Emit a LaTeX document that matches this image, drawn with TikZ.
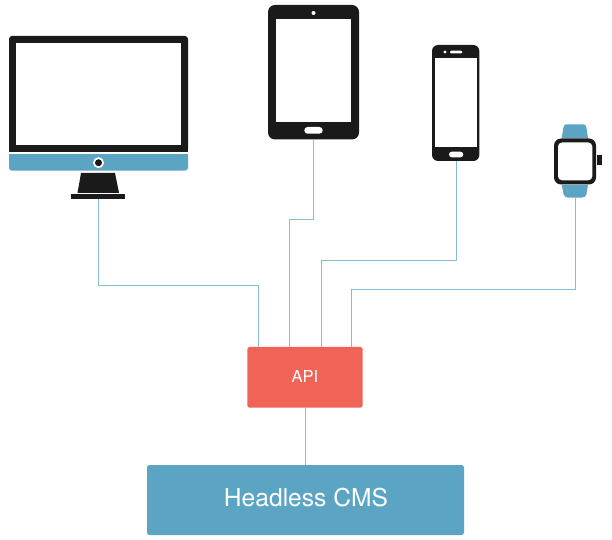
\documentclass[tikz,border=0pt]{standalone}
\usepackage{fontspec}
\setmainfont{TeX Gyre Heros}
\definecolor{ink}{HTML}{1A1A1A}
\definecolor{cmsblue}{HTML}{5BA4C4}
\definecolor{apired}{HTML}{F06357}
\definecolor{wire}{HTML}{84BCD4}
\tikzset{
  wirelink/.style={draw=wire,line width=1bp},
  flat/.style={inner sep=0pt,outer sep=0pt,line width=0pt},
}
% \bx{name}{x1}{y1}{x2}{y2}{options}
\newcommand{\bx}[6]{\node[flat,#6,minimum width={(#4-#2)*1bp},minimum height={(#5-#3)*1bp}] (#1) at ({(#2+#4)/2},{(#3+#5)/2}) {};}
\begin{document}
\begin{tikzpicture}[x=1bp,y=-1bp]
\useasboundingbox (0,0) rectangle (612,540);
% monitor
\fill[ink,rounded corners=3bp] (9,152) -- (9,36) -- (188,36) -- (188,152) -- cycle;
\fill[ink] (9,148) rectangle (188,152);
\bx{monscreen}{16}{43.5}{181}{145}{fill=white}
\fill[cmsblue,rounded corners=3bp] (9,154.5) -- (9,170.7) -- (188,170.7) -- (188,154.5) -- cycle;
\fill[cmsblue] (9,154.5) rectangle (188,160);
\fill[white] (98.5,162.7) circle[radius=5.5];
\fill[ink] (98.5,162.7) circle[radius=3.5];
\fill[ink] (81,173) -- (115,173) -- (119,193) -- (77.5,193) -- cycle;
\bx{monbase}{71}{194.3}{125}{199}{fill=ink}
% tablet
\bx{tablet}{268}{5}{359}{139.5}{fill=ink,rounded corners=7bp}
\bx{tabscreen}{275.7}{18.7}{351.3}{122.3}{fill=white}
\fill[white] (313.5,13) circle[radius=2];
\bx{tabhome}{304.3}{127}{322.7}{133.7}{fill=white,rounded corners=3.3bp}
% phone
\bx{phone}{432}{45}{479.3}{161}{fill=ink,rounded corners=6bp}
\bx{phscreen}{435}{58}{476.7}{147.3}{fill=white}
\fill[white] (445,52) circle[radius=1.7];
\bx{phspeaker}{450}{50.7}{462.3}{53.5}{fill=white,rounded corners=1.2bp}
\bx{phhome}{449}{151.7}{463.3}{157.3}{fill=white,rounded corners=2.8bp}
% watch
\fill[cmsblue] (561.7,138) .. controls (562.5,133) and (563,130) .. (563.3,128) .. controls (563.5,125) and (565,124.3) .. (567,124.3) -- (583,124.3) .. controls (585,124.3) and (586.2,125) .. (586.5,128) .. controls (586.8,130) and (587.2,133) .. (588,138) -- cycle;
\fill[cmsblue] (561.7,184.8) .. controls (562.5,188) and (563,191) .. (563.5,194) .. controls (564,197) and (566,197.4) .. (569,197.7) -- (581,197.7) .. controls (584,197.4) and (586,197) .. (586.5,194) .. controls (587,191) and (587.4,188) .. (588,184.8) -- cycle;
\coordinate (watchband) at (575.5,198);
\bx{crown}{597.3}{155}{602}{165}{fill=ink}
\bx{watchcase}{554}{138.5}{596}{184.5}{fill=ink,rounded corners=7bp}
\bx{watchface}{558}{142.5}{592.3}{180.3}{fill=white,rounded corners=4bp}
% boxes
\node[flat,fill=apired,rounded corners=2.5bp,minimum width=115.4bp,minimum height=60.7bp,text=white,font=\fontsize{16.5bp}{20bp}\selectfont] (api) at (305,377.3) {\raisebox{2bp}{API}};
\node[flat,fill=cmsblue,rounded corners=2.5bp,minimum width=317bp,minimum height=70bp,text=white,font=\fontsize{24.6bp}{29bp}\selectfont] (cms) at (305.5,500) {\raisebox{5bp}{\hspace{1bp}Headless CMS}};
% connector ends on the API box
\coordinate (a1) at (258.5,347);
\coordinate (a2) at (289.5,347);
\coordinate (a3) at (321.5,347);
\coordinate (a4) at (351.5,347);
\coordinate (m1) at (98.5,199);
\coordinate (t1) at (313.5,139.5);
\coordinate (p1) at (456.5,161);
% connectors
\draw[wirelink] (m1) |- (258.5,285.5) -- (a1);
\draw[wirelink] (t1) |- (289.5,219.5) -- (a2);
\draw[wirelink] (p1) |- (321.5,260.5) -- (a3);
\draw[wirelink] (watchband) |- (351.5,289.5) -- (a4);
\draw[wirelink] (api.south) -- (api.south |- cms.north);
\end{tikzpicture}
\end{document}
